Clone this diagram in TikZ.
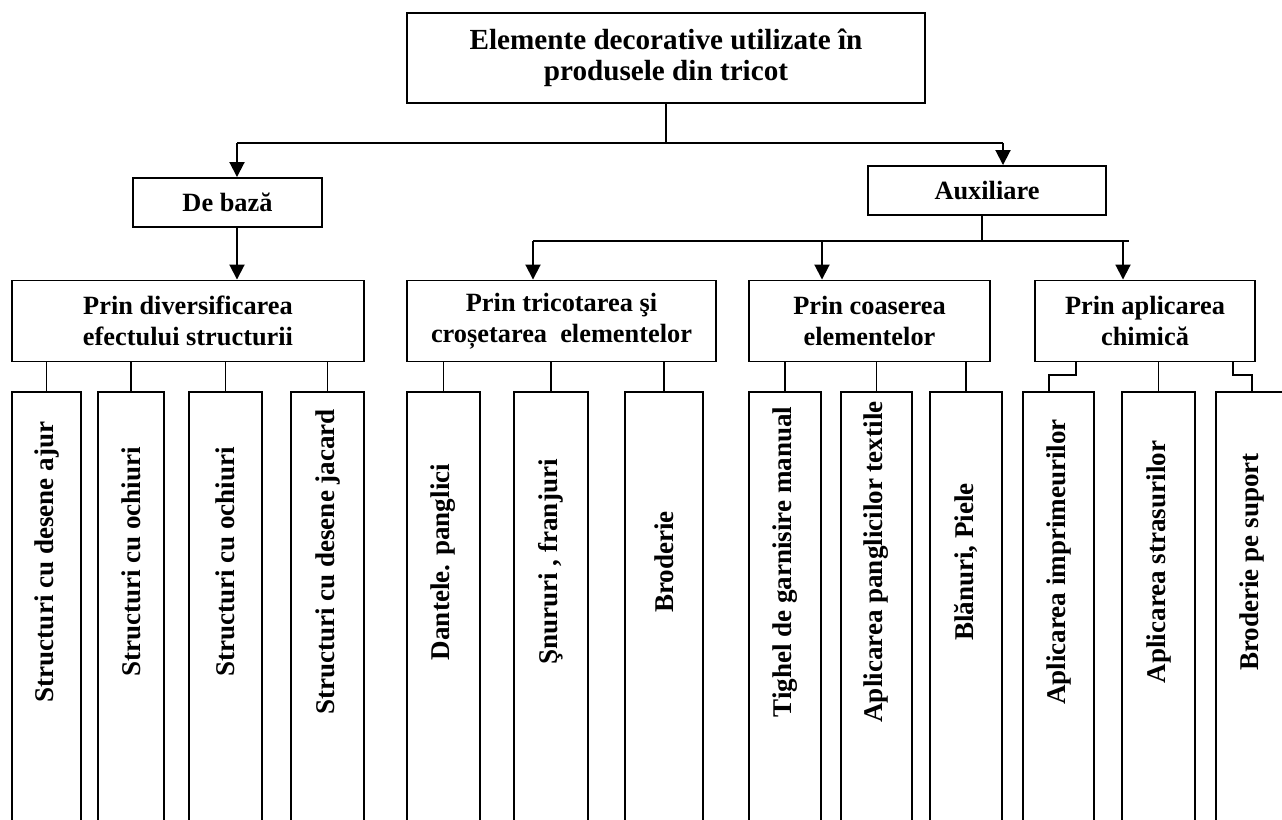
\documentclass[tikz,border=0pt]{standalone}
\usepackage{fontspec}
\setmainfont{Liberation Serif}
\usetikzlibrary{arrows.meta}
\tikzset{box/.style={draw,line width=1.1pt,inner sep=2pt,align=center,font=\bfseries\fontsize{15}{17.6}\selectfont},
         leaf/.style={draw,line width=1.1pt,anchor=north,minimum height=9.18cm,inner sep=0pt},
         leaftext/.style={rotate=90,inner sep=0pt,font=\bfseries\fontsize{15.4}{18}\selectfont},
         link/.style={line width=1.1pt},
         arr/.style={line width=1.1pt,-{Triangle[length=3mm,width=3mm]}},
        }

\begin{document}
\begin{tikzpicture}[x=0.02cm,y=-0.02cm]
        \useasboundingbox (0,0) rectangle (1282,820);
        \node[box,minimum width=10.36cm,minimum height=1.8cm,font=\bfseries\fontsize{16.6}{17.8}\selectfont](root)at(666,58){Elemente decorative utilizate în\\ produsele din tricot};
        \node[box,minimum width=3.78cm,minimum height=0.98cm](baza)at(227.5,202.5){De bază};
        \node[box,minimum width=4.76cm,minimum height=0.98cm](aux)at(987,190.5){Auxiliare};
        \node[box,minimum width=7.04cm,minimum height=1.62cm](div)at(188,321){Prin diversificarea\\ efectului structurii};
        \node[box,minimum width=6.18cm,minimum height=1.62cm](tric)at(561.5,321){Prin tricotarea şi\\ croșetarea~ elementelor};
        \node[box,minimum width=4.82cm,minimum height=1.62cm](coas)at(869.5,321){Prin coaserea\\ elementelor};
        \node[box,minimum width=4.4cm,minimum height=1.62cm](chim)at(1145,321){Prin aplicarea\\ chimică};

        % leaves
        \node[leaf,minimum width=1.38cm](a)at(46.5,391){};
        \node[leaf,minimum width=1.32cm](b)at(131,391){};
        \node[leaf,minimum width=1.46cm](c)at(225.5,391){};
        \node[leaf,minimum width=1.46cm](d)at(327.5,391){};
        \node[leaf,minimum width=1.46cm](e)at(443.5,391){};
        \node[leaf,minimum width=1.48cm](f)at(551,391){};
        \node[leaf,minimum width=1.56cm](g)at(664,391){};
        \node[leaf,minimum width=1.44cm](h)at(785,391){};
        \node[leaf,minimum width=1.42cm](i)at(876.5,391){};
        \node[leaf,minimum width=1.44cm](j)at(966,391){};
        \node[leaf,minimum width=1.42cm](k)at(1058.5,391){};
        \node[leaf,minimum width=1.46cm](l)at(1158.5,391){};
        \node[leaf,minimum width=1.44cm](m)at(1252,391){};

        \node[leaftext](ta)at(47,562){Structuri cu desene ajur};
        \node[leaftext](tb)at(131,562){Structuri cu ochiuri};
        \node[leaftext](tc)at(225.5,562){Structuri cu ochiuri};
        \node[leaftext](td)at(327.5,562){Structuri cu desene jacard};
        \node[leaftext](te)at(443.5,562){Dantele. panglici};
        \node[leaftext](tf)at(551,562){Şnururi , franjuri};
        \node[leaftext](tg)at(664,562){Broderie};
        \node[leaftext](th)at(785,562){Tighel de garnisire manual};
        \node[leaftext](ti)at(876.5,562){Aplicarea panglicilor textile};
        \node[leaftext](tj)at(966,562){Blănuri, Piele};
        \node[leaftext](tk)at(1058.5,562){Aplicarea imprimeurilor};
        \node[leaftext](tl)at(1158.5,562){Aplicarea strasurilor};
        \node[leaftext](tm)at(1252,562){Broderie pe suport};

        \coordinate(jl)at(237,143);
        \coordinate(jr)at(1003,143);
        \coordinate(ja)at(982,241);
        \coordinate(jt)at(533,241);
        \coordinate(jc)at(822,241);
        \coordinate(jh)at(1123,241);
        \coordinate(je)at(1129,241);
        \coordinate(kk)at(1076,375);
        \coordinate(mm)at(1233,375);

        \draw[link](root.south)--(root.south|-jl);
        \draw[link](jl)--(jr);
        \draw[arr](jl)--(jl|-baza.north);
        \draw[arr](jr)--(jr|-aux.north);
        \draw[arr](jl|-baza.south)--(jl|-div.north);
        \draw[link](ja|-aux.south)--(ja);
        \draw[link](jt)--(je);
        \draw[arr](jt)--(jt|-tric.north);
        \draw[arr](jc)--(jc|-coas.north);
        \draw[arr](jh)--(jh|-chim.north);

        \draw[link](div.south-|a.north)--(a.north);
        \draw[link](div.south-|b.north)--(b.north);
        \draw[link](div.south-|c.north)--(c.north);
        \draw[link](div.south-|d.north)--(d.north);
        \draw[link](tric.south-|e.north)--(e.north);
        \draw[link](tric.south-|f.north)--(f.north);
        \draw[link](tric.south-|g.north)--(g.north);
        \draw[link](coas.south-|h.north)--(h.north);
        \draw[link](coas.south-|i.north)--(i.north);
        \draw[link](coas.south-|j.north)--(j.north);
        \draw[link](kk|-chim.south)--(kk)-|([xshift=-0.19cm]k.north);
        \draw[link](chim.south-|l.north)--(l.north);
        \draw[link](mm|-chim.south)--(mm)-|(m.north);
    \end{tikzpicture}
\end{document}
